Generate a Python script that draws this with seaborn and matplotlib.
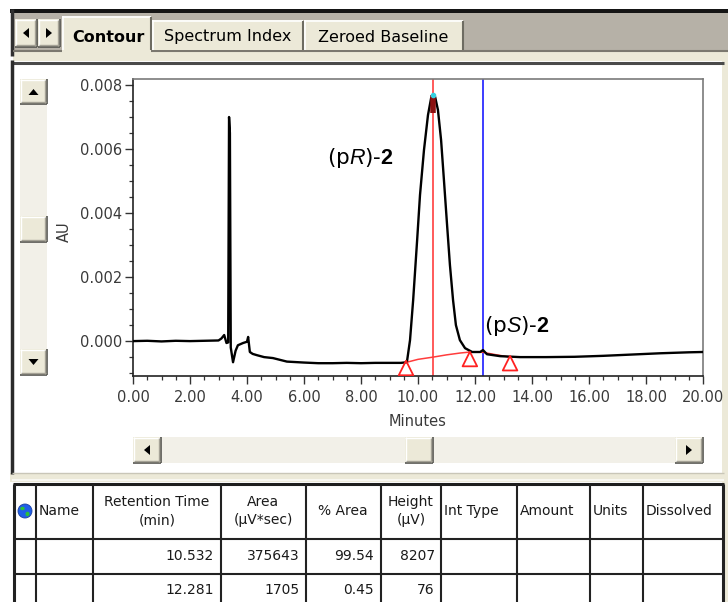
import numpy as np
import pandas as pd
import matplotlib
matplotlib.use("Agg")
import matplotlib.pyplot as plt
import seaborn as sns
from matplotlib.patches import Rectangle, Polygon, Circle, Ellipse
from matplotlib.ticker import MultipleLocator, FormatStrFormatter

# ---------------- data ----------------
time_min = [0.00, 0.50, 1.00, 1.50, 2.00, 2.50, 3.00, 3.10, 3.20, 3.28, 3.34, 3.37, 3.40,
            3.43, 3.51, 3.60, 3.68, 3.86, 4.00, 4.04, 4.10, 4.20, 4.35, 4.60, 4.91, 5.40,
            6.00, 6.50, 7.00, 7.50, 8.00, 8.50, 9.00, 9.40, 9.61, 9.72, 9.83, 9.97, 10.07,
            10.21, 10.35, 10.46, 10.53, 10.60, 10.70, 10.81, 10.91, 11.02, 11.12, 11.23,
            11.33, 11.47, 11.65, 11.90, 12.18, 12.28, 12.42, 12.88, 13.58, 14.50, 15.50,
            16.50, 17.50, 18.50, 19.50, 20.00]
au = [0.00000, 0.00001, -0.00001, 0.00001, 0.00000, 0.00001, 0.00002, 0.00008, 0.00019,
      -0.00006, -0.00004, 0.00700, 0.00650, -0.00020, -0.00066, -0.00030, -0.00013,
      -0.00006, -0.00002, 0.00013, -0.00034, -0.00040, -0.00044, -0.00050, -0.00053,
      -0.00064, -0.00067, -0.00069, -0.00069, -0.00068, -0.00069, -0.00068, -0.00068,
      -0.00068, -0.00066, 0.00003, 0.00128, 0.00316, 0.00456, 0.00597, 0.00706, 0.00759,
      0.00769, 0.00763, 0.00722, 0.00628, 0.00503, 0.00363, 0.00238, 0.00128, 0.00050,
      0.00003, -0.00022, -0.00034, -0.00034, -0.00028, -0.00041, -0.00047, -0.00050,
      -0.00050, -0.00049, -0.00046, -0.00042, -0.00038, -0.00035, -0.00034]

baseline_t = [9.61, 10.00, 10.53, 11.00, 11.50, 11.85, 12.28, 12.70, 13.23]
baseline_au = [-0.00066, -0.00057, -0.00050, -0.00043, -0.00037, -0.00034, -0.00035,
               -0.00042, -0.00050]

marker_t = [9.58, 11.82, 13.23]
marker_au = [-0.00084, -0.00056, -0.00069]

tab_labels = ["Contour", "Spectrum Index", "Zeroed Baseline"]

header_labels = ["Name", "Retention Time\n(min)", "Area\n(\u00b5V*sec)", "% Area",
                 "Height\n(\u00b5V)", "Int Type", "Amount", "Units", "Dissolved"]
retention_time = [10.532, 12.281]
area = [375643, 1705]
pct_area = [99.54, 0.45]
height_uv = [8207, 76]

peak_labels = [r"(p$\mathit{R}$)-$\mathbf{2}$", r"(p$\mathit{S}$)-$\mathbf{2}$"]

# ---------------- style ----------------
sns.set_style("ticks")
plt.rcParams["font.family"] = ["DejaVu Sans"]
plt.rcParams["mathtext.fontset"] = "custom"
plt.rcParams["mathtext.rm"] = "Liberation Sans"
plt.rcParams["mathtext.it"] = "Liberation Sans:italic"
plt.rcParams["mathtext.bf"] = "Liberation Sans:bold"

W, H = 728, 602
fig = plt.figure(figsize=(W / 100, H / 100), dpi=100)
fig.patch.set_facecolor("white")

ui = fig.add_axes([0, 0, 1, 1], zorder=0)
ui.set_xlim(0, W)
ui.set_ylim(H, 0)
ui.axis("off")

BEIGE = "#ece9d8"
GREYBAR = "#b6b1a7"
TRACK = "#f2f0e8"
DARK = "#2b2b2b"


def rect(x0, y0, x1, y1, fc, ec="none", lw=0, z=1):
    ui.add_patch(Rectangle((x0, y0), x1 - x0, y1 - y0, facecolor=fc, edgecolor=ec,
                           linewidth=lw, zorder=z))


def hline(x0, x1, y, c, lw=1.0, z=3):
    ui.plot([x0, x1], [y, y], color=c, lw=lw, zorder=z, solid_capstyle="butt")


def vline(x, y0, y1, c, lw=1.0, z=3):
    ui.plot([x, x], [y0, y1], color=c, lw=lw, zorder=z, solid_capstyle="butt")


def button(x0, y0, x1, y1, z=4):
    rect(x0, y0, x1, y1, BEIGE, z=z)
    hline(x0, x1, y0 + 0.5, "white", 1.0, z + 0.1)
    vline(x0 + 0.5, y0, y1, "white", 1.0, z + 0.1)
    hline(x0, x1, y1 - 0.5, "#555550", 1.2, z + 0.1)
    vline(x1 - 0.5, y0, y1, "#555550", 1.2, z + 0.1)
    hline(x0 + 1, x1 - 1, y1 - 2, "#a5a296", 1.0, z + 0.1)
    vline(x1 - 2, y0 + 1, y1 - 1, "#a5a296", 1.0, z + 0.1)


def tri(cx, cy, d, s=4, z=6):
    if d == "left":
        pts = [(cx + s * 0.6, cy - s), (cx + s * 0.6, cy + s), (cx - s * 0.6, cy)]
    elif d == "right":
        pts = [(cx - s * 0.6, cy - s), (cx - s * 0.6, cy + s), (cx + s * 0.6, cy)]
    elif d == "up":
        pts = [(cx - s, cy + s * 0.6), (cx + s, cy + s * 0.6), (cx, cy - s * 0.6)]
    else:
        pts = [(cx - s, cy - s * 0.6), (cx + s, cy - s * 0.6), (cx, cy + s * 0.6)]
    ui.add_patch(Polygon(pts, closed=True, facecolor="black", edgecolor="none", zorder=z))


# ---- top tab bar ----
rect(10, 9, W, 13, "#151515")
rect(13, 13, W, 50, GREYBAR)
vline(11.5, 9, 56, "#303030", 2.5)
button(15, 19, 37, 47)
tri(26, 33, "left", 5)
button(38, 19, 60, 47)
tri(49, 33, "right", 5)

tab_x = [(62, 151), (152, 303), (304, 463)]
for i, (lab, (x0, x1)) in enumerate(zip(tab_labels, tab_x)):
    top = 16 if i == 0 else 20
    rect(x0, top, x1, 52 if i == 0 else 50, BEIGE, z=4)
    hline(x0, x1, top + 0.5, "white", 1.2, 4.2)
    vline(x0 + 0.5, top, 50, "white", 1.2, 4.2)
    vline(x1 - 0.5, top + 1, 50, "#6e6c62", 1.5, 4.2)
    ui.text((x0 + x1) / 2 + (2 if i == 0 else 0), 37 if i == 0 else 37, lab,
            ha="center", va="center", fontsize=11.5,
            fontweight="bold" if i == 0 else "normal", color="black", zorder=5)

hline(13, 62, 50.5, "#7b786f", 1.5)
hline(151, W, 50.5, "#7b786f", 1.5)
rect(13, 52, W, 61, BEIGE)
hline(12, 724, 62.5, "#4a4a4a", 2.2)

# ---- chart panel ----
rect(12, 64, 724, 473, "white", z=0.5)
vline(12, 60, 474, DARK, 2.5)
rect(722, 52, W, H, BEIGE, z=2)
rect(10, 473, W, 482, BEIGE, z=2)
hline(12, 724, 473, "#c9c6b8", 1.0)

# vertical scrollbar
rect(20, 79, 47, 375, TRACK, z=2)
button(20, 79, 47, 104)
tri(33.5, 92, "up", 5)
button(20, 216, 47, 242)
button(20, 349, 47, 375)
tri(33.5, 362, "down", 5)

# horizontal scrollbar
rect(133, 437, 703, 463, TRACK, z=2)
button(133, 437, 161, 463)
tri(147, 450, "left", 5)
button(405, 437, 433, 463)
button(675, 437, 703, 463)
tri(689, 450, "right", 5)

# ---- table ----
col_x = [14, 36, 93, 221, 306, 381, 441, 517, 590, 643, 723]
row_y = [484, 539, 574, 610]
rect(14, 484, 723, H, "white", z=1.5)
hline(12, 724, 480, "#f8f7f1", 1.5)
hline(13, 724, 484, "#1e1e1e", 2.2)
for y in row_y[1:]:
    hline(14, 723, y, "#222222", 1.5)
for i, x in enumerate(col_x):
    vline(x, 484, H, "#222222", 2.2 if i in (0, len(col_x) - 1) else 1.5)

# globe icon
ui.add_patch(Circle((25, 511), 7, facecolor="#1f5fe8", edgecolor="#1a3fa0", lw=0.6, zorder=5))
ui.add_patch(Ellipse((22.5, 508.5), 4.5, 3.5, facecolor="#2bbf3a", edgecolor="none", zorder=6))
ui.add_patch(Ellipse((27.5, 514), 4.0, 4.5, facecolor="#2bbf3a", edgecolor="none", zorder=6))

hdr_y = 511
header_pos = [("left", 39), ("center", 157), ("center", 263), ("center", 343),
              ("center", 411), ("left", 444), ("left", 520), ("left", 593), ("left", 646)]
for lab, (ha, x) in zip(header_labels, header_pos):
    t = ui.text(x, hdr_y, lab, ha=ha, va="center", fontsize=10, color="#1a1a1a",
                linespacing=1.45, zorder=5, multialignment="center")
    t.set_clip_path(Rectangle((14, 484), 709, 60, transform=ui.transData))

row_centers = [556, 590]
for r in range(2):
    yc = row_centers[r]
    ui.text(214, yc, f"{retention_time[r]:.3f}", ha="right", va="center", fontsize=10,
            color="#1a1a1a", zorder=5)
    ui.text(300, yc, f"{area[r]}", ha="right", va="center", fontsize=10,
            color="#1a1a1a", zorder=5)
    ui.text(374, yc, f"{pct_area[r]:.2f}", ha="right", va="center", fontsize=10,
            color="#1a1a1a", zorder=5)
    ui.text(435, yc, f"{height_uv[r]}", ha="right", va="center", fontsize=10,
            color="#1a1a1a", zorder=5)

# ---------------- chart ----------------
ax_l, ax_r, ax_t, ax_b = 133, 703, 79, 376
ax = fig.add_axes([ax_l / W, 1 - ax_b / H, (ax_r - ax_l) / W, (ax_b - ax_t) / H], zorder=3)
ax.set_facecolor("white")

df = pd.DataFrame({"Minutes": time_min, "AU": au})
sns.lineplot(data=df, x="Minutes", y="AU", ax=ax, color="black", lw=1.7,
             sort=False, estimator=None, zorder=4)

bdf = pd.DataFrame({"t": baseline_t, "b": baseline_au})
sns.lineplot(data=bdf, x="t", y="b", ax=ax, color="#ff3c3c", lw=1.1, sort=False,
             estimator=None, zorder=3)

ax.axvline(retention_time[0], color="#ff5a5a", lw=1.4, zorder=2)
ax.axvline(retention_time[1], color="#3c3cff", lw=1.4, zorder=2)

apex = max(au)
ax.plot([retention_time[0], retention_time[0]], [apex, apex - 0.00055], color="#8b1010",
        lw=4, zorder=5, solid_capstyle="butt")
ax.plot([retention_time[0]], [apex], marker="o", ms=3, color="#35d0e0", zorder=6)

sns.scatterplot(x=marker_t, y=marker_au, ax=ax, marker="^", s=110, facecolor="none",
                edgecolor="#ff2020", linewidth=1.3, zorder=6)

ax.text(6.8, 0.00572, peak_labels[0], fontsize=15.5, ha="left", va="center",
        color="black", zorder=7)
ax.text(12.32, 0.00048, peak_labels[1], fontsize=15.5, ha="left", va="center",
        color="black", zorder=7)

ax.set_xlim(0, 20)
ax.set_ylim(-0.00109, 0.0081875)
ax.xaxis.set_major_locator(MultipleLocator(2))
ax.xaxis.set_minor_locator(MultipleLocator(0.5))
ax.yaxis.set_major_locator(MultipleLocator(0.002))
ax.yaxis.set_minor_locator(MultipleLocator(0.0005))
ax.xaxis.set_major_formatter(FormatStrFormatter("%.2f"))
ax.yaxis.set_major_formatter(FormatStrFormatter("%.3f"))
ax.tick_params(axis="both", which="major", direction="out", length=6, width=1.0,
               color="#333333", labelsize=10.5, labelcolor="#3a3a3a")
ax.tick_params(axis="both", which="minor", direction="out", length=3, width=0.9,
               color="#333333")
ax.tick_params(axis="x", which="major", pad=4)
ax.tick_params(axis="y", which="major", pad=1.5)
ax.set_xlabel("")
ax.set_ylabel("")
for side in ["left", "bottom"]:
    ax.spines[side].set_visible(True)
    ax.spines[side].set_color("#222222")
    ax.spines[side].set_linewidth(1.2)
for side in ["top", "right"]:
    ax.spines[side].set_visible(True)
    ax.spines[side].set_color("#7a7a7a")
    ax.spines[side].set_linewidth(1.2)

ui.text(418, 421, "Minutes", ha="center", va="center", fontsize=10.5, color="#3a3a3a")
ui.text(64, 232, "AU", ha="center", va="center", fontsize=10.5, color="#3a3a3a",
        rotation=90)

fig.savefig("out.png", dpi=100, facecolor="white")
